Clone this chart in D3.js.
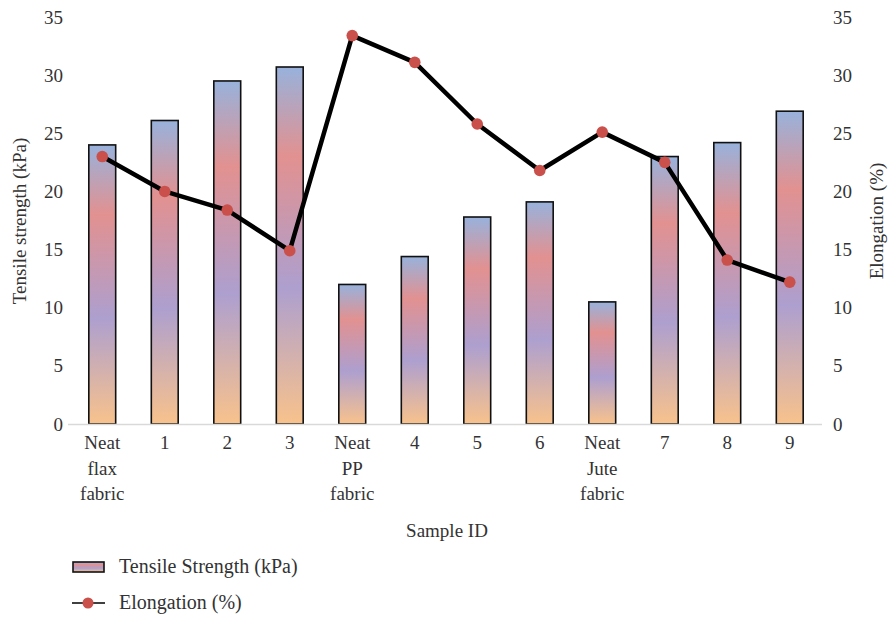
<!DOCTYPE html>
<html><head><meta charset="utf-8">
<script src="https://cdn.jsdelivr.net/npm/d3@7"></script>
<style>body{margin:0;background:#fff}svg{display:block}svg text{font-family:"Liberation Serif","DejaVu Serif",serif !important;fill:#333}</style>
</head><body>
<svg id="c" width="890" height="618"></svg>
<script>
const categories = ["Neat\nflax\nfabric","1","2","3","Neat\nPP\nfabric","4","5","6","Neat\nJute\nfabric","7","8","9"];
const tensile = [24.0, 26.1, 29.5, 30.7, 12.0, 14.4, 17.8, 19.1, 10.5, 23.0, 24.2, 26.9];
const elongation = [23.0, 20.0, 18.4, 14.9, 33.4, 31.1, 25.8, 21.8, 25.1, 22.5, 14.1, 12.2];
const yTicks = [0,5,10,15,20,25,30,35];

const FS = "19px";
const FF = "Liberation Serif";
const svg = d3.select("#c");
const x = d3.scaleBand().domain(categories).range([71, 821]).paddingInner(0.57).paddingOuter(0.285);
const y = d3.scaleLinear().domain([0,35]).range([424, 17]);
const y2 = d3.scaleLinear().domain([0,35]).range([424, 17]);

const defs = svg.append("defs");
const g = defs.append("linearGradient").attr("id","bg").attr("x1",0).attr("y1",0).attr("x2",0).attr("y2",1);
[[0,"#98b2dc"],[0.25,"#e29190"],[0.62,"#ad9fcf"],[1,"#f8c28c"]].forEach(s=>g.append("stop").attr("offset",s[0]).attr("stop-color",s[1]));

// left axis
const la = svg.append("g").attr("transform","translate(67,0)")
  .call(d3.axisLeft(y).tickValues(yTicks).tickSize(0).tickPadding(4));
la.attr("font-family", FF).attr("font-size", FS);
la.select(".domain").remove();
la.selectAll("text").style("font-size",FS).style("font-family",FF).attr("fill","#333");
// right axis
const ra = svg.append("g").attr("transform","translate(830,0)")
  .call(d3.axisRight(y2).tickValues(yTicks).tickSize(0).tickPadding(3));
ra.attr("font-family", FF).attr("font-size", FS);
ra.select(".domain").remove();
ra.selectAll("text").style("font-size",FS).style("font-family",FF).attr("fill","#333");

// bars
svg.append("g").selectAll("rect").data(tensile).join("rect")
  .attr("x",(d,i)=>x(categories[i])).attr("width",x.bandwidth())
  .attr("y",d=>y(d)).attr("height",d=>y(0)-y(d))
  .attr("fill","url(#bg)").attr("stroke","#111").attr("stroke-width",1.6);

// x axis line
svg.append("line").attr("x1",68).attr("x2",822).attr("y1",y(0)+0.5).attr("y2",y(0)+0.5)
  .attr("stroke","#d9d9d9").attr("stroke-width",1.5);

// x labels
const xl = svg.append("g");
categories.forEach((c,i)=>{
  const cx = x(c)+x.bandwidth()/2;
  const t = xl.append("text").attr("text-anchor","middle").style("font-size",FS).style("font-family",FF)
    .attr("x", cx).attr("y", 449);
  c.split("\n").forEach((ln,j)=>t.append("tspan").attr("x",cx).attr("dy", j===0?0:25.5).text(ln));
});

// line
const line = d3.line().x((d,i)=>x(categories[i])+x.bandwidth()/2).y(d=>y2(d));
svg.append("path").datum(elongation).attr("d",line).attr("fill","none").attr("stroke","#000").attr("stroke-width",4.5).attr("stroke-linejoin","round");
svg.append("g").selectAll("circle").data(elongation).join("circle")
  .attr("cx",(d,i)=>x(categories[i])+x.bandwidth()/2).attr("cy",d=>y2(d)).attr("r",5.8).attr("fill","#c9504b");

// axis titles
svg.append("text").attr("transform","translate(26,221) rotate(-90)").attr("text-anchor","middle").style("font-size",FS).style("font-family",FF).text("Tensile strength (kPa)");
svg.append("text").attr("transform","translate(883,221) rotate(-90)").attr("text-anchor","middle").style("font-size",FS).style("font-family",FF).text("Elongation (%)");
svg.append("text").attr("x",447).attr("y",537).attr("text-anchor","middle").style("font-size",FS).style("font-family",FF).text("Sample ID");

// legend
svg.append("rect").attr("x",73).attr("y",562).attr("width",31).attr("height",10).attr("fill","url(#bg)").attr("stroke","#111").attr("stroke-width",1.6);
svg.append("text").attr("x",119).attr("y",573).style("font-size","20px").style("font-family",FF).text("Tensile Strength (kPa)");
svg.append("line").attr("x1",72).attr("x2",105).attr("y1",603).attr("y2",603).attr("stroke","#000").attr("stroke-width",1.5);
svg.append("circle").attr("cx",88).attr("cy",603).attr("r",5.5).attr("fill","#c9504b");
svg.append("text").attr("x",119).attr("y",609).style("font-size","20px").style("font-family",FF).text("Elongation (%)");
</script>
</body></html>
